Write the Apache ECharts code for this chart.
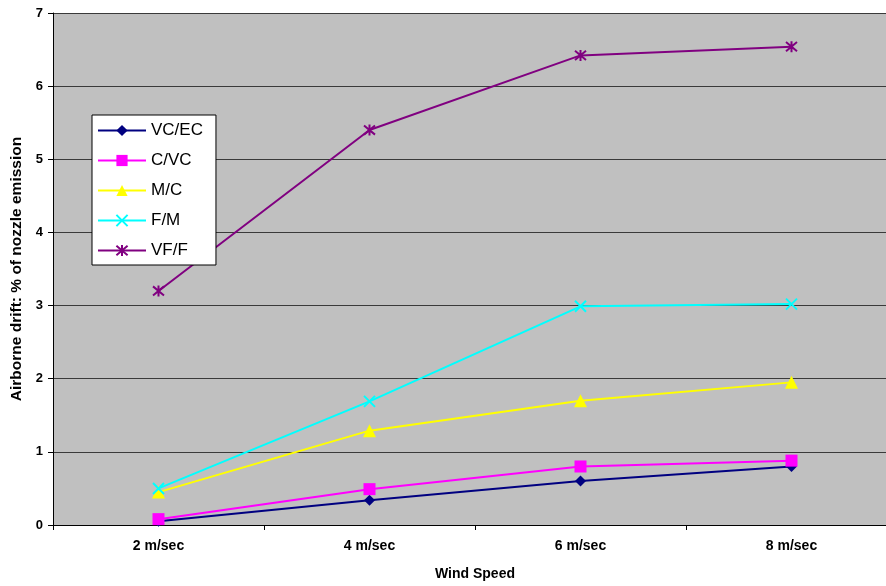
<!DOCTYPE html>
<html>
<head>
<meta charset="utf-8">
<script src="https://cdn.jsdelivr.net/npm/echarts@6/dist/echarts.min.js"></script>
<style>
  html, body { margin: 0; padding: 0; background: #ffffff; overflow: hidden; }
  /* canvas is wider than the window so the plot area runs off the right edge */
  #chart { width: 897px; height: 586px; }
</style>
</head>
<body>
<div id="chart"></div>
<script>
// Wind speed categories
const windSpeeds = ['2 m/sec', '4 m/sec', '6 m/sec', '8 m/sec'];

// Airborne drift (% of nozzle emission) per droplet-size class
const vcEc = [0.05, 0.34, 0.60, 0.80];
const cVc  = [0.08, 0.49, 0.80, 0.88];
const mC   = [0.45, 1.29, 1.70, 1.95];
const fM   = [0.50, 1.69, 2.99, 3.02];
const vfF  = [3.20, 5.40, 6.42, 6.54];

const yTicks = { min: 0, max: 7, interval: 1 };

const FONT = 'Liberation Sans, Arial, sans-serif';

function lineSeries(name, data, color, symbol, size, stroke) {
  return {
    name: name,
    type: 'line',
    data: data,
    symbol: symbol,
    symbolSize: size,
    showSymbol: true,
    lineStyle: { color: color, width: 2 },
    itemStyle: stroke
      ? { color: color, borderColor: color, borderWidth: 2 }
      : { color: color, borderWidth: 0 },
    emphasis: { disabled: true },
    animation: false
  };
}

const chart = echarts.init(document.getElementById('chart'), null, { renderer: 'canvas' });

chart.setOption({
  backgroundColor: '#ffffff',
  textStyle: { fontFamily: FONT },
  grid: {
    left: 53, right: 0, top: 13, bottom: 58,
    show: true, backgroundColor: '#c0c0c0', borderWidth: 0
  },
  legend: {
    orient: 'vertical',
    left: 92, top: 115,
    backgroundColor: '#ffffff',
    borderColor: '#000000',
    borderWidth: 1,
    padding: [7, 13, 6, 5],
    itemWidth: 48,
    itemHeight: 14,
    itemGap: 13,
    textStyle: { fontFamily: FONT, fontSize: 17, color: '#000000' },
    data: ['VC/EC', 'C/VC', 'M/C', 'F/M', 'VF/F']
  },
  xAxis: {
    type: 'category',
    data: windSpeeds,
    boundaryGap: true,
    name: 'Wind Speed',
    nameLocation: 'middle',
    nameGap: 42,
    nameTextStyle: { fontFamily: FONT, fontSize: 14, fontWeight: 'bold', color: '#000' },
    axisLine: { lineStyle: { color: '#000', width: 1 } },
    axisTick: { show: true, inside: false, length: 5, lineStyle: { color: '#000' } },
    axisLabel: { fontFamily: FONT, fontSize: 14, fontWeight: 'bold', color: '#000', margin: 14 },
    splitLine: { show: false }
  },
  yAxis: {
    type: 'value',
    min: yTicks.min, max: yTicks.max, interval: yTicks.interval,
    name: 'Airborne drift: % of nozzle emission',
    nameLocation: 'middle',
    nameRotate: 90,
    nameGap: 26,
    nameTextStyle: { fontFamily: FONT, fontSize: 15.5, fontWeight: 'bold', color: '#000' },
    axisLine: { show: true, lineStyle: { color: '#000', width: 1 } },
    axisTick: { show: true, inside: false, length: 5, lineStyle: { color: '#000' } },
    axisLabel: { fontFamily: FONT, fontSize: 13, fontWeight: 'bold', color: '#000', margin: 10 },
    splitLine: { show: true, lineStyle: { color: '#3a3a3a', width: 1 } }
  },
  series: [
    lineSeries('VC/EC', vcEc, '#000080', 'diamond', 11, false),
    lineSeries('C/VC', cVc, '#ff00ff', 'rect', 12, false),
    lineSeries('M/C', mC, '#ffff00', 'triangle', 13, false),
    lineSeries('F/M', fM, '#00ffff', 'path://M0,0L10,10M10,0L0,10', 11, true),
    lineSeries('VF/F', vfF, '#800080', 'path://M0,0L10,10M10,0L0,10M5,-1L5,11', 11, true)
  ]
});
</script>
</body>
</html>
